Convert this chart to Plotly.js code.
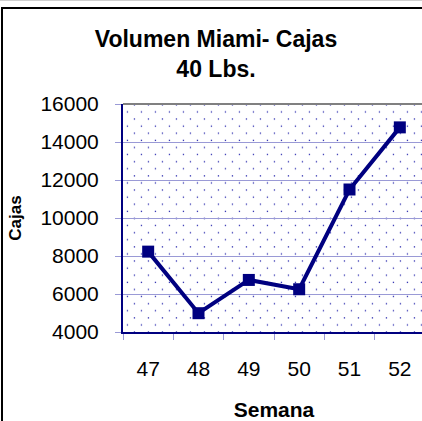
<!DOCTYPE html>
<html>
<head>
<meta charset="utf-8">
<script src="https://cdn.plot.ly/plotly-3.0.1.min.js"></script>
<style>
  html, body { margin: 0; padding: 0; overflow: hidden; width: 422px; height: 421px; background: #fff; }
  #topline { position: absolute; left: 0; top: 0; width: 422px; height: 1px; background: #cfcfcf; z-index: 5; }
  #frame { position: absolute; left: 1px; top: 7px; width: 440px; height: 430px; border-left: 2px solid #000; border-top: 2px solid #000; z-index: 5; pointer-events: none; }
  #chart { position: absolute; left: 0; top: 0; }
</style>
</head>
<body>
<div id="topline"></div>
<div id="frame"></div>
<div id="chart"></div>
<script>
const weeks = ['47', '48', '49', '50', '51', '52'];
const cajas = [8230, 4990, 6740, 6250, 11500, 14770];
const yTicks = [4000, 6000, 8000, 10000, 12000, 14000, 16000];

const W = 430, H = 421;
const M = { l: 123, r: 5, t: 104, b: 89 };
const pw = W - M.l - M.r, ph = H - M.t - M.b;

// dotted background pattern for the plot area
const svg = '<svg xmlns="http://www.w3.org/2000/svg" width="' + pw + '" height="' + ph + '" viewBox="0 0 ' + pw + ' ' + ph + '">' +
  '<defs><pattern id="p" x="0" y="0" width="14" height="14.2" patternUnits="userSpaceOnUse">' +
  '<rect x="3.8" y="7.3" width="1.3" height="1.3" fill="#3030b0"/>' +
  '<rect x="10.8" y="0.2" width="1.3" height="1.3" fill="#3030b0"/>' +
  '</pattern></defs><rect width="100%" height="100%" fill="#ffffff"/>' +
  '<rect width="100%" height="100%" fill="url(#p)"/></svg>';
const bgSrc = 'data:image/svg+xml;base64,' + btoa(svg);

const trace = {
  type: 'scatter',
  mode: 'lines+markers',
  x: weeks,
  y: cajas,
  line: { color: '#000080', width: 4 },
  marker: { symbol: 'square', size: 12, color: '#000080' },
  hoverinfo: 'x+y'
};

const font = { family: 'Liberation Sans, Arial, sans-serif', color: '#000' };

const layout = {
  width: W, height: H,
  margin: M,
  paper_bgcolor: 'rgba(0,0,0,0)',
  plot_bgcolor: 'rgba(0,0,0,0)',
  showlegend: false,
  font: font,
  title: {
    text: '<b>Volumen Miami- Cajas<br>40 Lbs.</b>',
    font: { family: font.family, size: 23, color: '#000' },
    x: 216 / W, xanchor: 'center', xref: 'container',
    y: 1 - 47 / H, yanchor: 'top', yref: 'container'
  },
  xaxis: {
    type: 'category',
    range: [-0.5, weeks.length - 0.5],
    tickson: 'boundaries',
    ticks: 'outside', ticklen: 6, tickcolor: '#9a9ad6', tickwidth: 1,
    ticklabelstandoff: 17,
    tickfont: { family: font.family, size: 21, color: '#000' },
    showline: true, linecolor: '#000080', linewidth: 2,
    showgrid: false, zeroline: false,
    title: { text: '<b>Semana</b>', font: { family: font.family, size: 21, color: '#000' }, standoff: 30 },
    fixedrange: true
  },
  yaxis: {
    range: [4000, 16000],
    tickvals: yTicks,
    ticktext: yTicks.map(String),
    ticks: 'outside', ticklen: 6, tickcolor: '#9a9ad6', tickwidth: 1,
    ticklabelstandoff: 12,
    tickfont: { family: font.family, size: 21, color: '#000' },
    showline: true, linecolor: '#000080', linewidth: 2,
    showgrid: true, gridcolor: '#9a9ad6', gridwidth: 1,
    zeroline: false,
    title: { text: '<b>Cajas</b>', font: { family: font.family, size: 17, color: '#000' }, standoff: 14 },
    fixedrange: true
  },
  images: [{
    source: bgSrc, xref: 'paper', yref: 'paper',
    x: 0, y: 1, sizex: 1, sizey: 1, xanchor: 'left', yanchor: 'top',
    sizing: 'stretch', layer: 'below'
  }],
  shapes: [{
    type: 'line', xref: 'paper', yref: 'paper', x0: 0, x1: 1, y0: 1, y1: 1,
    line: { color: '#808080', width: 2 }
  }]
};

Plotly.newPlot('chart', [trace], layout, { displayModeBar: false, staticPlot: true });
</script>
</body>
</html>
